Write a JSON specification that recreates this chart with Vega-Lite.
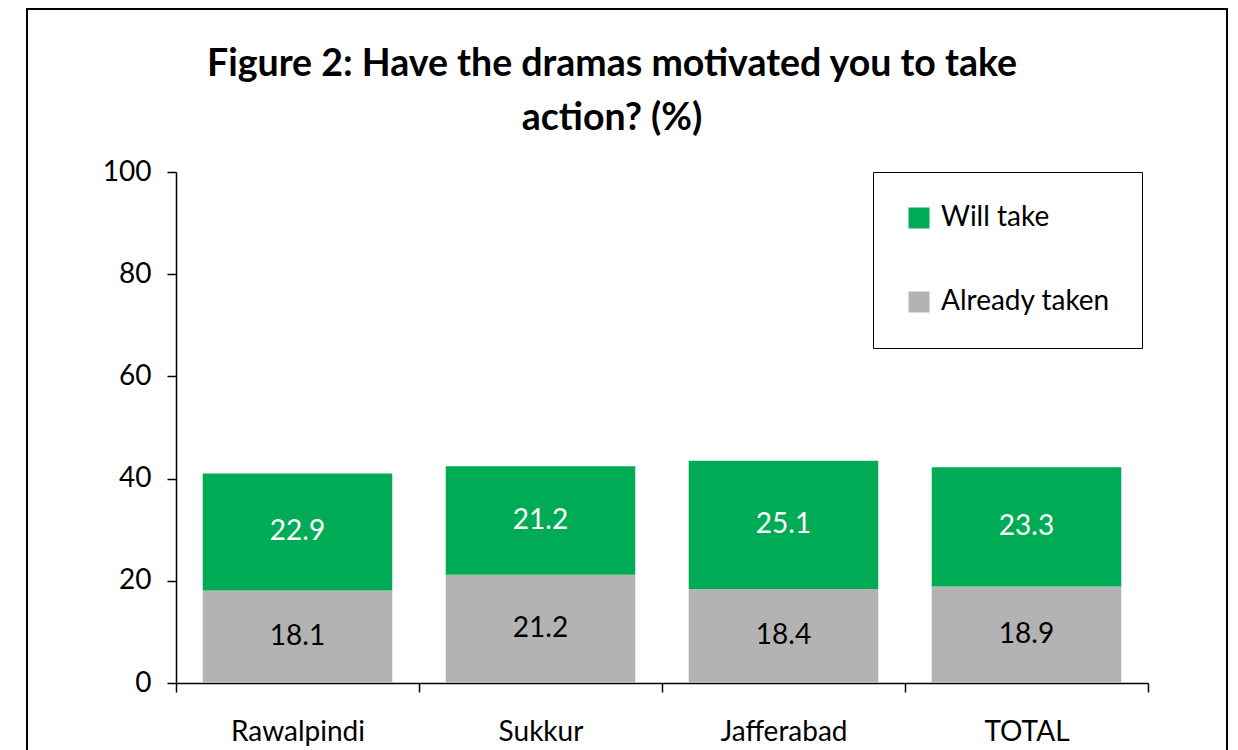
{
  "$schema": "https://vega.github.io/schema/vega-lite/v6.json",
  "width": 1200,
  "height": 760,
  "autosize": "none",
  "padding": {"left": 27, "top": 9, "right": 11, "bottom": 0},
  "background": "white",
  "config": {
    "view": {"stroke": "black", "strokeWidth": 2},
    "font": "Lato"
  },
  "title": {
    "text": ["Figure 2: Have the dramas motivated you to take", "action? (%)"],
    "font": "Lato",
    "fontSize": 37.5,
    "fontWeight": "bold",
    "color": "black",
    "anchor": "middle",
    "frame": "group",
    "baseline": "top",
    "lineHeight": 54,
    "offset": -128,
    "dx": -15
  },
  "data": {
    "values": [
      {"city": "Rawalpindi", "type": "Already taken", "value": 18.1},
      {"city": "Rawalpindi", "type": "Will take", "value": 22.9},
      {"city": "Sukkur", "type": "Already taken", "value": 21.2},
      {"city": "Sukkur", "type": "Will take", "value": 21.2},
      {"city": "Jafferabad", "type": "Already taken", "value": 18.4},
      {"city": "Jafferabad", "type": "Will take", "value": 25.1},
      {"city": "TOTAL", "type": "Already taken", "value": 18.9},
      {"city": "TOTAL", "type": "Will take", "value": 23.3}
    ]
  },
  "transform": [
    {"stack": "value", "groupby": ["city"], "sort": [{"field": "type", "order": "ascending"}], "as": ["lo", "hi"]},
    {"calculate": "(datum.lo + datum.hi) / 2", "as": "mid"}
  ],
  "encoding": {
    "x": {
      "field": "city",
      "type": "nominal",
      "sort": ["Rawalpindi", "Sukkur", "Jafferabad", "TOTAL"],
      "scale": {"range": [149, 1121], "paddingInner": 0, "paddingOuter": 0},
      "axis": {
        "title": null,
        "labelAngle": 0,
        "labelFont": "Lato",
        "labelFontSize": 28,
        "labelColor": "black",
        "labelPadding": 26,
        "tickBand": "extent",
        "tickSize": 9,
        "tickColor": "black",
        "tickWidth": 1.5,
        "domainColor": "black",
        "domainWidth": 1.5,
        "offset": -86
      }
    }
  },
  "layer": [
    {
      "mark": {"type": "bar", "width": {"band": 0.78}},
      "encoding": {
        "y": {
          "field": "lo",
          "type": "quantitative",
          "scale": {"domain": [0, 100], "range": [674, 163], "nice": false},
          "axis": {
            "title": null,
            "values": [0, 20, 40, 60, 80, 100],
            "grid": false,
            "labelFont": "Lato",
            "labelFontSize": 28,
            "labelColor": "black",
            "labelPadding": 16,
            "tickSize": 9,
            "tickColor": "black",
            "tickWidth": 1.5,
            "domainColor": "black",
            "domainWidth": 1.5,
            "offset": -149
          }
        },
        "y2": {"field": "hi"},
        "color": {
          "field": "type",
          "type": "nominal",
          "scale": {"domain": ["Will take", "Already taken"], "range": ["#00AB55", "#B3B3B3"]},
          "legend": {
            "title": null,
            "orient": "none",
            "legendX": 846,
            "legendY": 163,
            "padding": 32,
            "strokeColor": "black",
            "fillColor": "white",
            "symbolType": "square",
            "symbolSize": 441,
            "symbolStrokeWidth": 0,
            "labelFont": "Lato",
            "labelFontSize": 28,
            "labelColor": "black",
            "labelOffset": 8,
            "labelLimit": 400,
            "rowPadding": 56
          }
        }
      }
    },
    {
      "mark": {"type": "text", "font": "Lato", "fontSize": 28, "baseline": "middle", "align": "center"},
      "encoding": {
        "y": {"field": "mid", "type": "quantitative"},
        "text": {"field": "value", "type": "quantitative", "format": ".1f"},
        "color": {
          "condition": {"test": "datum.type === 'Will take'", "value": "white"},
          "value": "black"
        }
      }
    }
  ]
}
